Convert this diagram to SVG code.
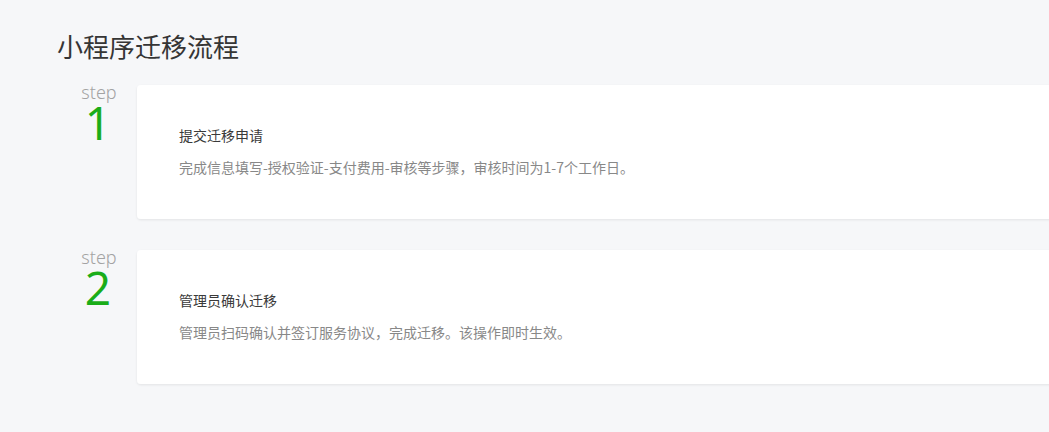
<svg xmlns="http://www.w3.org/2000/svg" width="1049" height="432" viewBox="0 0 1049 432">
<defs>
<filter id="sh" x="-5%" y="-10%" width="110%" height="130%">
<feDropShadow dx="0" dy="1" stdDeviation="1" flood-color="#000" flood-opacity="0.08"/>
</filter>
</defs>
<style>
.f{font-family:"Noto Sans CJK SC","Noto Sans",sans-serif}
.h{font-size:26px;fill:#353535}
.st{font-size:18px;fill:#a3a3a3;text-anchor:middle;font-family:"Noto Sans","Noto Sans CJK SC",sans-serif;font-weight:300}
.num{font-size:46px;fill:#1aad19;text-anchor:middle;font-family:"Noto Sans","Noto Sans CJK SC",sans-serif;font-weight:400}
.card{fill:#fff;filter:url(#sh)}
.t{font-size:14px;fill:#3a3a3a}
.d{font-size:14px;fill:#888}
</style>
<rect width="1049" height="432" fill="#f6f7f9"/>
<text class="f h" x="57" y="57">小程序迁移流程</text>
<g id="step1">
<text class="st" x="99" y="99">step</text>
<text class="num" x="98" y="140">1</text>
<rect class="card" x="137" y="85" width="930" height="134" rx="4"/>
<text class="f t" x="179" y="141">提交迁移申请</text>
<text class="f d" x="179" y="173" textLength="455">完成信息填写-授权验证-支付费用-审核等步骤，审核时间为1-7个工作日。</text>
</g>
<g id="step2">
<text class="st" x="99" y="264">step</text>
<text class="num" x="98" y="305">2</text>
<rect class="card" x="137" y="250" width="930" height="134" rx="4"/>
<text class="f t" x="179" y="306">管理员确认迁移</text>
<text class="f d" x="179" y="338">管理员扫码确认并签订服务协议，完成迁移。该操作即时生效。</text>
</g>
<g id="connectors"/>
</svg>
